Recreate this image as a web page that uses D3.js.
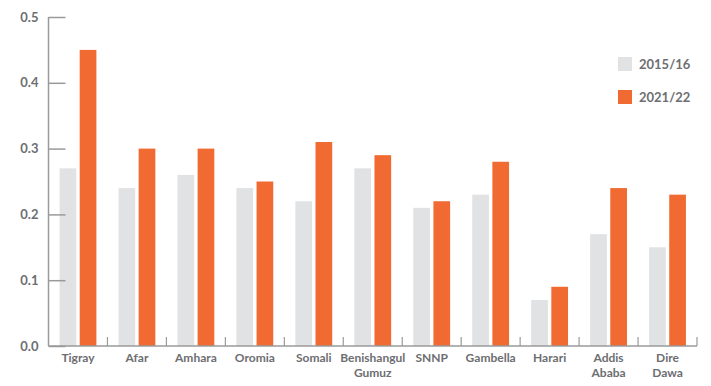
<!DOCTYPE html>
<html>
<head>
<meta charset="utf-8">
<script src="https://cdn.jsdelivr.net/npm/d3@7"></script>
<style>
  body { margin: 0; background: #fff; }
  text { font-family: Lato, "Open Sans", sans-serif; font-weight: bold; fill: #6d6e71; }
</style>
</head>
<body>
<div id="chart"></div>
<script>
// data
const regions = ["Tigray", "Afar", "Amhara", "Oromia", "Somali", "Benishangul Gumuz",
    "SNNP", "Gambella", "Harari", "Addis Ababa", "Dire Dawa"]
const years = ["2015/16", "2021/22"]
const v2015 = [0.27, 0.24, 0.26, 0.24, 0.22, 0.27, 0.21, 0.23, 0.07, 0.17, 0.15]
const v2022 = [0.45, 0.30, 0.30, 0.25, 0.31, 0.29, 0.22, 0.28, 0.09, 0.24, 0.23]
const yTicks = [0, 0.1, 0.2, 0.3, 0.4, 0.5]
const colors = ["#e1e2e4", "#f06a32"]

const width = 711, height = 386
const margin = {left: 48.5, right: 14, top: 17, bottom: 40}

const svg = d3.select("#chart").append("svg")
    .attr("width", width)
    .attr("height", height)

const x = d3.scaleBand()
    .domain(regions)
    .range([margin.left, width - margin.right])
    .paddingInner(0).paddingOuter(0)

const x1 = d3.scaleBand()
    .domain(years)
    .range([0, x.bandwidth()])
    .paddingInner(0.17)
    .paddingOuter(0.55)

const y = d3.scaleLinear()
    .domain([0, 0.5])
    .range([height - margin.bottom, margin.top])

const data = regions.map((r, i) => ({region: r, values: [v2015[i], v2022[i]]}))

// bars
svg.append("g")
    .selectAll("g")
    .data(data)
    .join("g")
    .attr("transform", d => `translate(${x(d.region)},0)`)
    .selectAll("rect")
    .data(d => d.values.map((v, j) => ({year: years[j], v: v, c: colors[j]})))
    .join("rect")
    .attr("x", d => x1(d.year))
    .attr("width", x1.bandwidth())
    .attr("y", d => y(d.v))
    .attr("height", d => y(0) - y(d.v))
    .attr("fill", d => d.c)

// y axis, ticks pointing inward
const yAxis = svg.append("g")
    .attr("transform", `translate(${margin.left},0)`)
    .call(d3.axisLeft(y).tickValues(yTicks).tickFormat(d3.format(".1f")).tickSize(-17).tickPadding(10))
yAxis.select(".domain").attr("stroke", "#9a9a9a").attr("stroke-width", 1.5)
    .attr("d", `M0,${y(0)}V${y(0.5)}`)
yAxis.selectAll(".tick line").attr("stroke", "#9a9a9a").attr("stroke-width", 1.5)
yAxis.selectAll(".tick text").style("font-size", "13px").attr("x", -10)

// x axis with boundary ticks pointing up
const xg = svg.append("g")
    .attr("transform", `translate(0,${y(0)})`)
xg.append("line")
    .attr("x1", margin.left).attr("x2", width - margin.right)
    .attr("stroke", "#9a9a9a").attr("stroke-width", 1.5)
xg.selectAll("line.tk")
    .data(regions.slice(1).concat([null]))
    .join("line")
    .attr("class", "tk")
    .attr("x1", (d, i) => d ? x(d) : width - margin.right)
    .attr("x2", (d, i) => d ? x(d) : width - margin.right)
    .attr("y1", 0).attr("y2", -9)
    .attr("stroke", "#9a9a9a").attr("stroke-width", 1.2)

xg.selectAll("text")
    .data(regions)
    .join("text")
    .attr("x", d => x(d) + x.bandwidth() / 2)
    .attr("y", 16)
    .attr("text-anchor", "middle")
    .style("font-size", "12px")
    .each(function(d) {
        const parts = d.split(" ")
        d3.select(this).selectAll("tspan")
            .data(parts)
            .join("tspan")
            .attr("x", x(d) + x.bandwidth() / 2)
            .attr("dy", (p, k) => k === 0 ? 0 : 14.5)
            .text(p => p)
    })

// legend
const legend = svg.append("g")
    .selectAll("g")
    .data(years)
    .join("g")
    .attr("transform", (d, i) => `translate(618,${57 + i * 33})`)
legend.append("rect")
    .attr("width", 14).attr("height", 14)
    .attr("fill", (d, i) => colors[i])
legend.append("text")
    .attr("x", 21).attr("y", 7)
    .attr("dy", "0.36em")
    .style("font-size", "13px")
    .text(d => d)
</script>
</body>
</html>
